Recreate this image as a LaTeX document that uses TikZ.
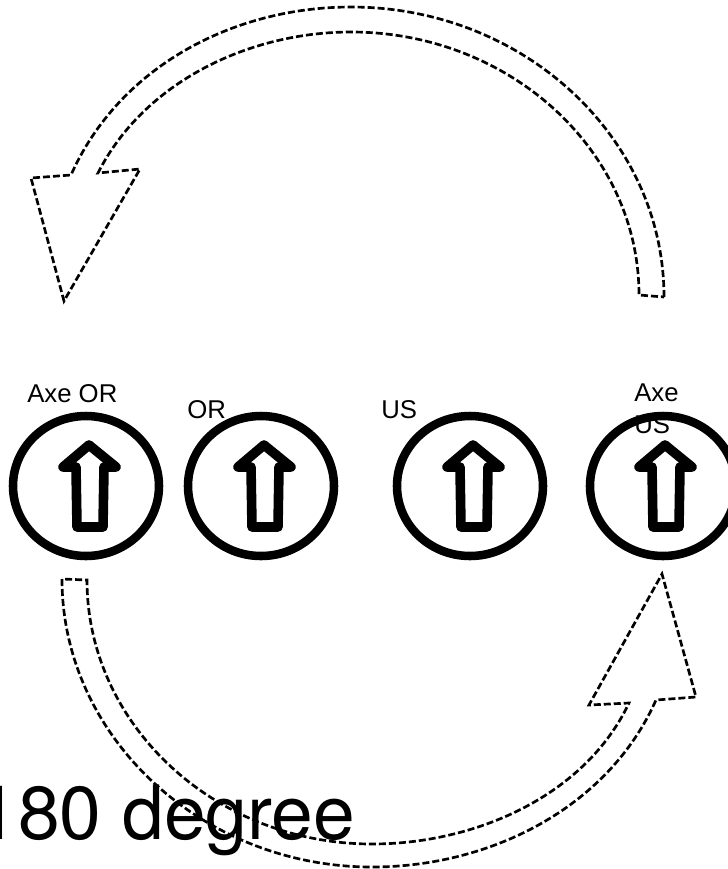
\documentclass[tikz,border=0pt]{standalone}
\usepackage{fontspec}
\setmainfont{Liberation Sans}
\newfontfamily\bigfont{TeX Gyre Heros}
\tikzset{
  dashedshape/.style={line width=2pt,dash pattern={on 5.25pt off 2.25pt},line join=miter},
  dialring/.style={line width=6.4pt},
  dialarrow/.style={line width=7.2pt,line join=round},
  smalllabel/.style={anchor=base west,inner sep=0pt,font=\fontsize{19.3}{24}\selectfont},
  biglabel/.style={anchor=base west,inner sep=0pt,font=\bigfont\fontsize{56.25}{60}\selectfont}
}

\begin{document}
\begin{tikzpicture}[x=0.75pt,y=0.75pt,yscale=-1,xscale=1]
\useasboundingbox (0,0) rectangle (728,869);

%Shape: Bent Arrow, top
\draw [dashedshape] (664,297) .. controls (664,137) and (523,7) .. (351,7) .. controls (233,7) and (119,67) .. (71,175) -- (31,178) -- (64,301) -- (140,169) -- (98,173) .. controls (144,82) and (249,32) .. (351,32) .. controls (509,32) and (639,150) .. (639,295) -- cycle ;
%Shape: Bent Arrow, bottom
\draw [dashedshape] (62,579) .. controls (62,737) and (202,867) .. (372,867) .. controls (490,867) and (608,808) .. (656,700) -- (696,697) -- (662,574) -- (589,705) -- (629,703) .. controls (585,796) and (475,844) .. (372,844) .. controls (215,844) and (87,725) .. (87,580) -- cycle ;

%Shape: Circle
\draw [dialring] (86,486) ellipse (73 and 70);
\draw [dialring] (261,486) ellipse (73 and 70);
\draw [dialring] (470,486) ellipse (73 and 70);
\draw [dialring] (663,486) ellipse (73 and 70);

%Shape: Up Arrow
\draw [dialarrow] (89,445) -- (116,467) -- (104,467) -- (103,527) -- (77,527) -- (76,467) -- (63,467) -- cycle ;
\draw [dialarrow] (264,445) -- (291,467) -- (279,467) -- (278,527) -- (252,527) -- (251,467) -- (238,467) -- cycle ;
\draw [dialarrow] (473,445) -- (500,467) -- (488,467) -- (487,527) -- (461,527) -- (460,467) -- (447,467) -- cycle ;
\draw [dialarrow] (665,445) -- (692,467) -- (680,467) -- (679,527) -- (653,527) -- (652,467) -- (639,467) -- cycle ;

% Text Node
\node (axeor) at (27,402) [smalllabel] {Axe OR};
% Text Node
\node (or) at (187,418) [smalllabel] {OR};
% Text Node
\node (us) at (381,418) [smalllabel] {US};
% Text Node
\node (axeus) at (634,384) [smalllabel,anchor=north west,align=left] {Axe\\US};
% Text Node
\node (degree) at (-23.7,839) [biglabel] {180 degree};

\end{tikzpicture}
\end{document}
